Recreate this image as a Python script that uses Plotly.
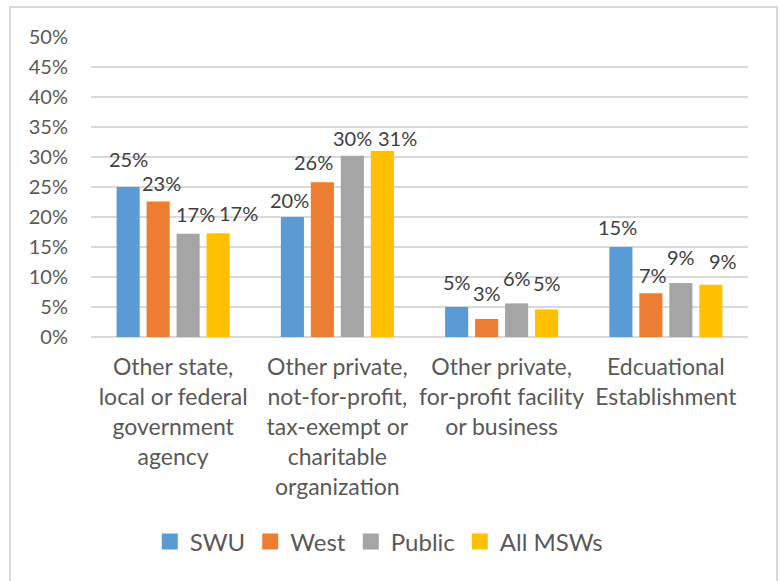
import plotly.graph_objects as go

categories = [
    "Other state,<br>local or federal<br>government<br>agency",
    "Other private,<br>not-for-profit,<br>tax-exempt or<br>charitable<br>organization",
    "Other private,<br>for-profit facility<br>or business",
    "Edcuational<br>Establishment",
]
series_names = ["SWU", "West", "Public", "All MSWs"]
swu = [0.25, 0.20, 0.05, 0.15]
west = [0.226, 0.258, 0.03, 0.073]
public = [0.172, 0.302, 0.056, 0.09]
all_msws = [0.173, 0.31, 0.046, 0.087]
colors = ["#5B9BD5", "#ED7D31", "#A5A5A5", "#FFC000"]
y_ticks = [i * 0.05 for i in range(11)]

# label nudges (pixels) per series, per category: (dx, dy above bar top)
label_nudges = [
    [(0, 28), (-3, 17), (0, 25), (-3, 20)],
    [(3, 18), (-9, 20), (0, 26), (2, 18)],
    [(7, 20), (0, 18), (0, 25), (0, 26)],
    [(20, 20), (15, 13), (0, 26), (12, 24)],
]

FONT = "Lato, 'Open Sans', sans-serif"
SLOT = 30  # pixel width of one bar slot within a group

fig = go.Figure()
annotations = []
all_series = [swu, west, public, all_msws]
for si, (name, vals, col) in enumerate(zip(series_names, all_series, colors)):
    fig.add_trace(go.Bar(
        x=categories, y=vals, name=name,
        marker=dict(color=col, line=dict(width=0)),
        hoverinfo="skip", showlegend=False,
    ))
    for ci, (cat, v) in enumerate(zip(categories, vals)):
        dx, dy = label_nudges[si][ci]
        annotations.append(dict(
            x=cat, y=v, xref="x", yref="y",
            text=f"{v*100:.0f}%", showarrow=False,
            xanchor="center", yanchor="middle",
            xshift=(si - 1.5) * SLOT + dx, yshift=dy,
            font=dict(family=FONT, size=20, color="#404040"),
        ))

# legend entries with larger square swatches
for name, col in zip(series_names, colors):
    fig.add_trace(go.Scatter(
        x=[None], y=[None], mode="markers", name=name,
        marker=dict(symbol="square", size=16, color=col, line=dict(width=0)),
        hoverinfo="skip", showlegend=True,
    ))

fig.update_layout(
    width=780, height=581,
    margin=dict(l=91, r=32, t=37, b=244, autoexpand=False),
    paper_bgcolor="white", plot_bgcolor="white",
    barmode="group", bargap=0.27, bargroupgap=0.23,
    font=dict(family=FONT, size=20, color="#595959"),
    showlegend=True,
    legend=dict(orientation="h", x=0.438, xanchor="center", y=-0.683, yanchor="middle",
                font=dict(family=FONT, size=24, color="#595959"),
                traceorder="normal", itemwidth=30),
    xaxis=dict(showgrid=False, showline=False, zeroline=False, ticks="",
               automargin=False,
               tickfont=dict(family=FONT, size=23, color="#595959"),
               ticklabelstandoff=14, tickangle=0),
    yaxis=dict(range=[0, 0.5], tickvals=y_ticks, tickformat=".0%",
               automargin=False,
               showgrid=True, gridcolor="#D9D9D9", gridwidth=1.5,
               zeroline=True, zerolinecolor="#D9D9D9", zerolinewidth=1.5,
               showline=False, ticks="",
               tickfont=dict(family=FONT, size=20, color="#595959"),
               ticklabelstandoff=22),
    annotations=annotations,
    shapes=[dict(type="rect", xref="paper", yref="paper",
                 x0=-0.1233, x1=1.0441, y0=-0.83, y1=1.1,
                 line=dict(color="#D9D9D9", width=2), fillcolor="rgba(0,0,0,0)",
                 layer="below")],
)

fig.write_html("out.html", config={"displayModeBar": False},
               post_script="document.body.style.margin='0';")
